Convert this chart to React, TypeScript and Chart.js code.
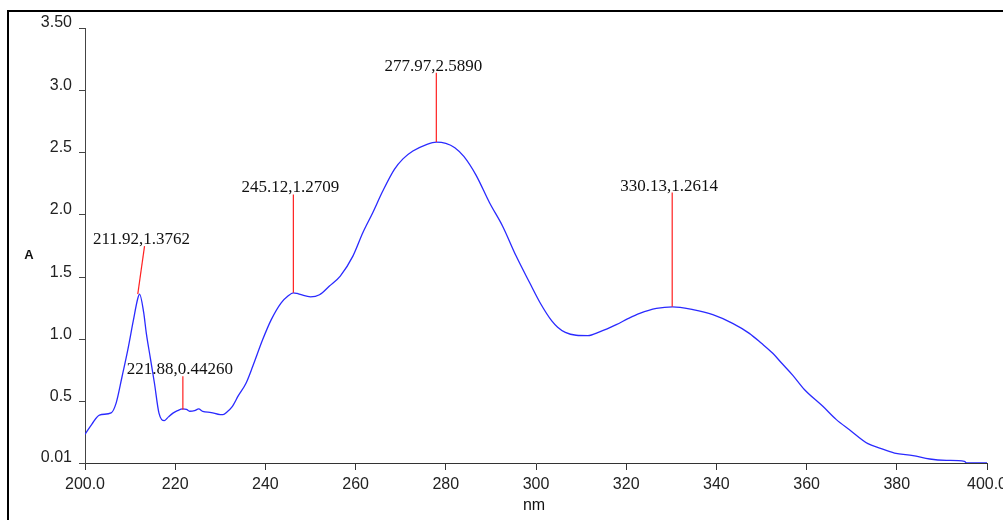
import React, { useEffect, useRef } from "react";
import { Chart, registerables } from "chart.js";

Chart.register(...registerables);

// ---- data ----
const wavelengths: number[] = [
  200.0, 201.5, 203.2, 205.8, 206.9, 208.2, 209.5, 210.7, 211.7, 212.1,
  213.0, 213.6, 214.5, 215.4, 216.4, 217.6, 218.5, 219.5, 220.5, 221.7,
  222.5, 223.2, 224.3, 225.2, 226.1, 228.0, 230.0, 230.6, 231.5, 232.6,
  234.0, 235.7, 237.2, 239.4, 241.3, 243.5, 245.0, 246.2, 247.0, 247.9,
  250.0, 252.0, 254.2, 256.6, 259.4, 261.6, 263.8, 266.0, 268.6, 270.5,
  272.7, 275.7, 277.9, 280.0, 282.0, 284.0, 286.7, 289.7, 292.6, 295.6,
  298.6, 301.0, 303.5, 304.8, 306.5, 308.9, 311.5, 314.1, 317.8, 320.5,
  323.0, 326.7, 330.3, 334.8, 339.2, 343.6, 347.3, 350.0, 352.5, 354.5,
  356.9, 359.5, 363.6, 366.6, 369.5, 373.6, 376.2, 379.5, 383.6, 387.3,
  391.0, 395.0, 395.5, 400.0,
];
const absorbance: number[] = [
  0.24, 0.32, 0.395, 0.412, 0.49, 0.7, 0.92, 1.15, 1.33, 1.365,
  1.22, 1.05, 0.85, 0.65, 0.41, 0.35, 0.38, 0.41, 0.43, 0.444,
  0.44, 0.425, 0.43, 0.444, 0.425, 0.415, 0.398, 0.398, 0.42, 0.46,
  0.55, 0.65, 0.786, 1.0, 1.16, 1.295, 1.35, 1.375, 1.37, 1.36,
  1.343, 1.36, 1.43, 1.51, 1.67, 1.857, 2.018, 2.19, 2.366, 2.45,
  2.513, 2.565, 2.585, 2.575, 2.54, 2.47, 2.32, 2.098, 1.91, 1.67,
  1.456, 1.29, 1.15, 1.1, 1.058, 1.035, 1.032, 1.062, 1.12, 1.17,
  1.21, 1.25, 1.263, 1.24, 1.2, 1.13, 1.05, 0.97, 0.89, 0.81,
  0.715, 0.6, 0.465, 0.358, 0.277, 0.165, 0.13, 0.09, 0.069, 0.042,
  0.031, 0.023, 0.01, 0.01,
];

const xTickValues: number[] = [200, 220, 240, 260, 280, 300, 320, 340, 360, 380, 400];
const xTickLabels: string[] = ["200.0", "220", "240", "260", "280", "300", "320", "340", "360", "380", "400.0"];
const yTickValues: number[] = [0.01, 0.5, 1.0, 1.5, 2.0, 2.5, 3.0, 3.5];
const yTickLabels: string[] = ["0.01", "0.5", "1.0", "1.5", "2.0", "2.5", "3.0", "3.50"];

const peakLabels: string[] = ["211.92,1.3762", "221.88,0.44260", "245.12,1.2709", "277.97,2.5890", "330.13,1.2614"];
const peakNm: number[] = [211.7, 221.7, 246.2, 277.9, 330.2];
const peakA: number[] = [1.365, 0.438, 1.375, 2.585, 1.263];
const labelNm: number[] = [213.2, 221.7, 246.2, 277.9, 330.2];
const labelA: number[] = [1.75, 0.706, 2.165, 3.14, 2.18];

const xTitle = "nm";
const yTitle = "A";

const SANS = '"Liberation Sans", Arial, sans-serif';
const SERIF = '"Liberation Serif", "Times New Roman", serif';

const annotatePlugin = {
  id: "peakAnnotations",
  afterDatasetsDraw(chart: any) {
    const { ctx, scales } = chart;
    const xs = scales.x;
    const ys = scales.y;
    ctx.save();
    for (let i = 0; i < peakLabels.length; i++) {
      const x0 = xs.getPixelForValue(peakNm[i]);
      const y0 = ys.getPixelForValue(peakA[i]);
      const x1 = xs.getPixelForValue(labelNm[i]);
      const y1 = ys.getPixelForValue(labelA[i]);
      ctx.strokeStyle = "#ff2020";
      ctx.lineWidth = 1.2;
      ctx.beginPath();
      ctx.moveTo(x0, y0);
      ctx.lineTo(x1, y1);
      ctx.stroke();
      ctx.fillStyle = "#111";
      ctx.font = `17px ${SERIF}`;
      ctx.textAlign = "center";
      ctx.textBaseline = "alphabetic";
      ctx.fillText(peakLabels[i], x1 - 3, y1 - 2);
    }
    ctx.fillStyle = "#111";
    ctx.font = `bold 13px ${SANS}`;
    ctx.textAlign = "center";
    ctx.textBaseline = "middle";
    ctx.fillText(yTitle, 29, 255);
    ctx.font = `16px ${SANS}`;
    ctx.fillText(xTitle, 534, 506);
    ctx.restore();
  },
};

export default function App() {
  const canvasRef = useRef<HTMLCanvasElement | null>(null);

  useEffect(() => {
    const canvas = canvasRef.current;
    if (!canvas) return;
    const chart = new Chart(canvas, {
      type: "line",
      data: {
        datasets: [
          {
            data: wavelengths.map((w, i) => ({ x: w, y: absorbance[i] })),
            borderColor: "#2a2aff",
            borderWidth: 1.3,
            pointRadius: 0,
            fill: false,
            cubicInterpolationMode: "monotone",
          },
        ],
      },
      options: {
        responsive: false,
        animation: false,
        layout: { autoPadding: false, padding: { left: 0, top: 28, right: 16, bottom: 0 } },
        plugins: { legend: { display: false }, tooltip: { enabled: false }, title: { display: false } },
        scales: {
          x: {
            type: "linear",
            min: 200,
            max: 400,
            afterBuildTicks: (s: any) => {
              s.ticks = xTickValues.map((v) => ({ value: v }));
            },
            afterFit: (s: any) => {
              s.height = 57;
              s.paddingLeft = 0;
              s.paddingRight = 0;
            },
            grid: { drawOnChartArea: false, drawTicks: true, tickLength: 7, color: "#333", lineWidth: 1 },
            border: { display: true, color: "#333", width: 1 },
            ticks: {
              autoSkip: false,
              maxRotation: 0,
              padding: 5,
              color: "#222",
              font: { family: SANS, size: 16 },
              callback: (_v: any, i: number) => xTickLabels[i],
            },
          },
          y: {
            type: "linear",
            min: 0.01,
            max: 3.5,
            afterBuildTicks: (s: any) => {
              s.ticks = yTickValues.map((v) => ({ value: v }));
            },
            afterFit: (s: any) => {
              s.width = 85;
              s.paddingTop = 0;
              s.paddingBottom = 0;
            },
            grid: { drawOnChartArea: false, drawTicks: true, tickLength: 6, color: "#444", lineWidth: 1 },
            border: { display: true, color: "#444", width: 1 },
            ticks: {
              autoSkip: false,
              padding: 7,
              labelOffset: -5,
              color: "#222",
              font: { family: SANS, size: 16 },
              callback: (_v: any, i: number) => yTickLabels[i],
            },
          },
        },
      } as any,
      plugins: [annotatePlugin],
    });
    return () => chart.destroy();
  }, []);

  return (
    <>
      <div
        style={{
          position: "absolute",
          left: 7,
          top: 10,
          width: 996,
          height: 510,
          boxSizing: "border-box",
          borderLeft: "2px solid #000",
          borderTop: "2px solid #000",
        }}
      />
      <canvas
        ref={canvasRef}
        width={1003}
        height={520}
        style={{ position: "absolute", left: 0, top: 0, width: 1003, height: 520 }}
      />
    </>
  );
}
